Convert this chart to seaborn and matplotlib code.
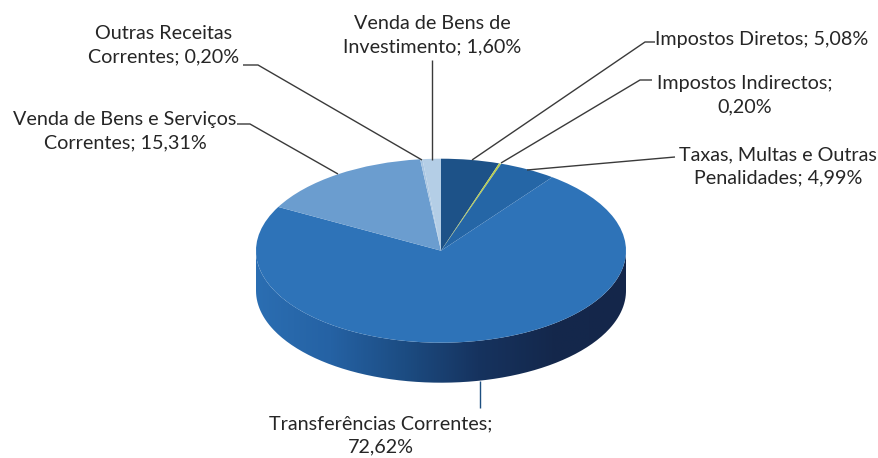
import numpy as np
import seaborn as sns
import matplotlib.pyplot as plt
from matplotlib.patches import PathPatch
from matplotlib.path import Path
from matplotlib.colors import to_rgb

categories = ['Impostos Diretos', 'Impostos Indirectos', 'Taxas, Multas e Outras Penalidades',
              'Transferências Correntes', 'Venda de Bens e Serviços Correntes',
              'Outras Receitas Correntes', 'Venda de Bens de Investimento']
values = [5.08, 0.20, 4.99, 72.62, 15.31, 0.20, 1.60]
colors = ['#1d5288', '#b9cf4e', '#2566a6', '#2e73b8', '#6b9dcf', '#a9c6e2', '#b4cee6']

label_texts = ['Impostos Diretos; 5,08%', 'Impostos Indirectos;\n0,20%',
               'Taxas, Multas e Outras\nPenalidades; 4,99%', 'Transferências Correntes;\n72,62%',
               'Venda de Bens e Serviços\nCorrentes; 15,31%', 'Outras Receitas\nCorrentes; 0,20%',
               'Venda de Bens de\nInvestimento; 1,60%']

# label placement in picture pixels
label_x = [655, 745, 778, 381, 125, 164, 432]
label_y = [40, 95, 166, 435, 131, 45, 35]
label_ha = ['left', 'center', 'center', 'center', 'center', 'center', 'center']
leaders = [[(655, 42), (645, 42), (472, 160)],
           [(652, 80), (640, 80), (501, 163)],
           [(675, 157), (527, 170)],
           [(480, 408), (480, 381)],
           [(237, 124), (250, 124), (338, 174)],
           [(243, 65), (258, 65), (422, 160)],
           [(432, 60), (432, 160)]]
leader_colors = ['#3a3a3a', '#3a3a3a', '#3a3a3a', '#1d4f80', '#3a3a3a', '#3a3a3a', '#3a3a3a']

cx, cy, rx, ry, depth = 441, 250.7, 185, 92, 40
W, H = 879, 458

sns.set_theme(style='white')
plt.rcParams['font.family'] = ['Lato', 'DejaVu Sans']

fig = plt.figure(figsize=(W / 100, H / 100), dpi=100)
ax = fig.add_axes([0, 0, 1, 1])

ax.pie(values, colors=colors, startangle=90, counterclock=False, radius=1,
       wedgeprops={'linewidth': 0.3, 'edgecolor': 'none', 'zorder': 2})
ax.set_aspect('auto')
xlim = (-cx / rx, (W - cx) / rx)
ylim = ((cy - H) / ry, cy / ry)

# side wall of the pie, dark towards the right
d = depth / ry
t = np.linspace(np.pi, 2 * np.pi, 200)
outline = np.r_[np.c_[np.cos(t), np.sin(t) - d], np.c_[np.cos(t[::-1]), np.sin(t[::-1])]]
wall = PathPatch(Path(outline), transform=ax.transData, facecolor='none', edgecolor='none')
ax.add_patch(wall)
side = sns.blend_palette(['#2b6eb2', '#2562a4', '#1c4c82', '#16335f', '#14284c', '#14264a'], 256)
grad = np.array([to_rgb(c) for c in side])[None, :, :]
img = ax.imshow(grad, extent=(-1, 1, -1 - d, 0), aspect='auto', zorder=1)
img.set_clip_path(wall)
ax.set_xlim(xlim)
ax.set_ylim(ylim)
ax.set_axis_off()

# overlay in pixels for leader lines and labels
ov = fig.add_axes([0, 0, 1, 1], facecolor='none')
ov.set_xlim(0, W)
ov.set_ylim(H, 0)
ov.set_axis_off()

for pts, lc in zip(leaders, leader_colors):
    ov.plot([p[0] for p in pts], [p[1] for p in pts], color=lc, lw=1.0, solid_capstyle='butt')

for txt, x, y, ha in zip(label_texts, label_x, label_y, label_ha):
    ov.text(x, y, txt, ha=ha, va='center', fontsize=14.2, color='#262626', linespacing=1.42)

fig.savefig('out.png', dpi=100, facecolor='white')
